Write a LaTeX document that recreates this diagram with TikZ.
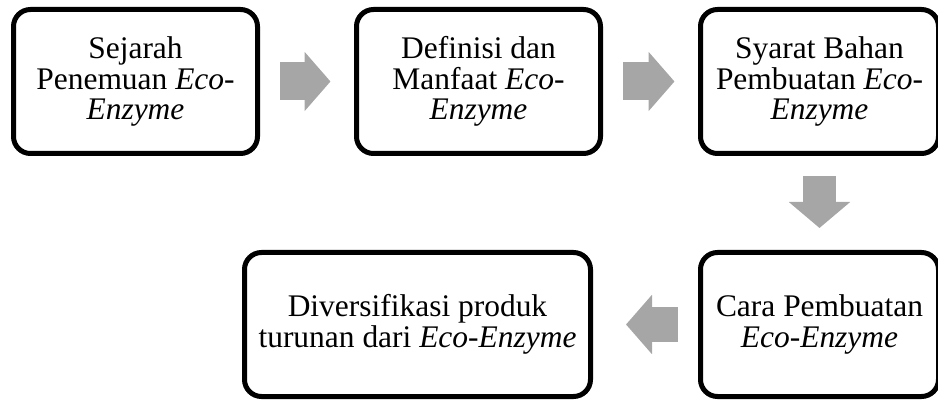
\documentclass[tikz,border=0pt]{standalone}
\usepackage{fontspec}
\setmainfont{Liberation Serif}
\usetikzlibrary{positioning}
\usetikzlibrary{arrows.meta}
\definecolor{arrowgray}{RGB}{166,166,166}
\tikzset{stage/.style={draw, line width=0.1cm, rounded corners=0.34cm, align=center,
  minimum width=4.88cm, minimum height=2.88cm, inner sep=0pt,
  font=\fontsize{17.9}{17.4}\selectfont}}
\tikzset{blk/.style={draw=arrowgray, line width=0.76cm,
  -{Triangle[length=0.52cm, width=1.16cm]}, shorten <=0.4cm, shorten >=0.47cm}}

\begin{document}
\begin{tikzpicture}
\useasboundingbox (0,0) rectangle (18.76,-8);
\begin{scope}[on grid]
\node[stage] (hist) at (2.71, -1.63) {Sejarah\\Penemuan \textit{Eco-}\\\textit{Enzyme}};
\node[stage] (def) [right = 6.86 of hist] {Definisi dan\\Manfaat \textit{Eco-}\\\textit{Enzyme}};
\node[stage, minimum width=4.76cm] (req) [right = 6.82 of def] {Syarat Bahan\\Pembuatan \textit{Eco-}\\\textit{Enzyme}};
\node[stage, minimum width=4.76cm] (make) [below = 4.86 of req] {Cara Pembuatan\\\textit{Eco-Enzyme}};
\node[stage, minimum width=6.92cm] (prod) [left = 8.04 of make] {Diversifikasi produk\\turunan dari \textit{Eco-Enzyme}};

\draw[blk] (hist) -- (def);
\draw[blk] (def) -- (req);

\draw[blk, line width=0.66cm, -{Triangle[length=0.52cm, width=1.2cm]}, shorten >=0.44cm] (req) -- (make);
\draw[blk, line width=0.7cm, shorten >=0.66cm] (make) -- (prod);
\end{scope}
\end{tikzpicture}
\end{document}
